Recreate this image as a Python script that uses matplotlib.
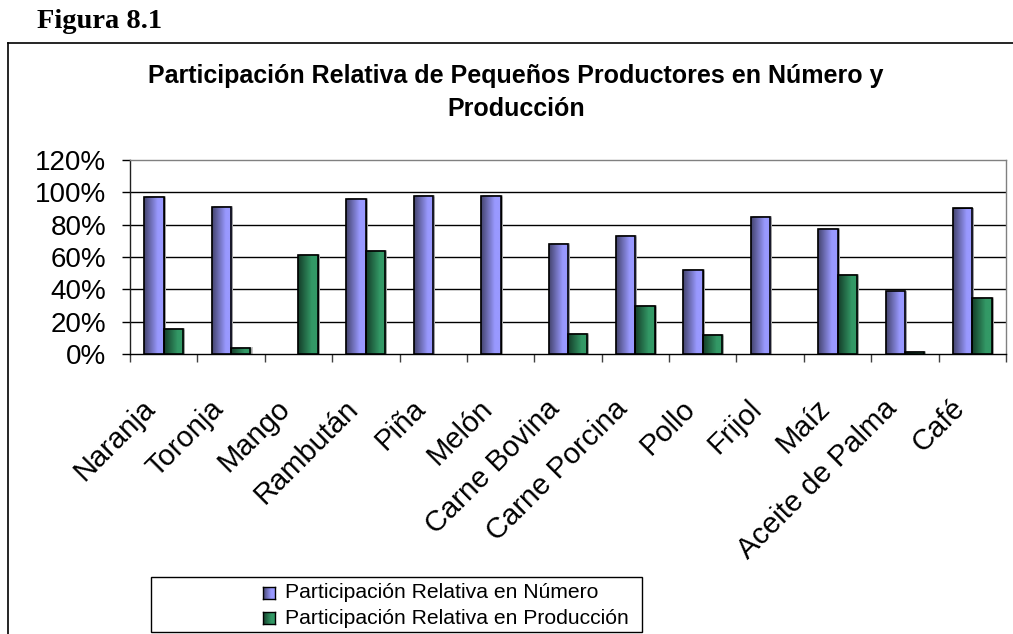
import matplotlib
matplotlib.use('Agg')
import matplotlib.pyplot as plt
import numpy as np
from matplotlib.colors import LinearSegmentedColormap
from matplotlib.patches import Rectangle
from matplotlib.lines import Line2D

plt.rcParams['font.family'] = ['Liberation Sans', 'DejaVu Sans']

categories = ['Naranja', 'Toronja', 'Mango', 'Rambután', 'Piña', 'Melón', 'Carne Bovina',
              'Carne Porcina', 'Pollo', 'Frijol', 'Maíz', 'Aceite de Palma', 'Café']
numero = [0.97, 0.91, 0.0, 0.96, 0.98, 0.98, 0.68, 0.73, 0.52, 0.85, 0.775, 0.39, 0.90]
produccion = [0.156, 0.04, 0.614, 0.635, 0.0, 0.0, 0.124, 0.30, 0.117, 0.0, 0.49, 0.015, 0.346]
series_names = ['Participación Relativa en Número', 'Participación Relativa en Producción']
yticks = [0.0, 0.2, 0.4, 0.6, 0.8, 1.0, 1.2]

BLUE_LIGHT = '#9999ff'
BLUE_DARK = '#44446e'
GREEN_LIGHT = '#339966'
GREEN_DARK = '#143d29'
BAR_W = 0.288
LABEL_SHIFT = 0.33  # rotated labels sit a little left of the category centre

W, H = 1013, 634
fig = plt.figure(figsize=(W / 100, H / 100), dpi=100)
ax = fig.add_axes([130 / W, 1 - 354 / H, (1006 - 130) / W, (354 - 160) / H])

gradient = np.clip(np.linspace(0, 1, 64) / 0.7, 0, 1).reshape(1, -1)


def shade_cmap(dark, light):
    return LinearSegmentedColormap.from_list('shade', [dark, light])


def shaded_bars(xs, values, dark, light):
    cmap = shade_cmap(dark, light)
    bars = ax.bar(xs, values, BAR_W, align='edge', facecolor=light,
                  edgecolor='black', linewidth=1.0, zorder=3)
    for bar in bars:
        h = bar.get_height()
        if h <= 0:
            bar.set_visible(False)
            continue
        x0 = bar.get_x()
        # soft drop shadow
        ax.add_patch(Rectangle((x0 + 0.03, 0), BAR_W, h + 0.006, facecolor='#c8c8c8',
                               edgecolor='none', zorder=2))
        img = ax.imshow(gradient, extent=[x0, x0 + BAR_W, 0, h], aspect='auto',
                        cmap=cmap, vmin=0, vmax=1, zorder=3.5, interpolation='bilinear')
        img.set_clip_path(bar)
        ax.add_patch(Rectangle((x0, 0), BAR_W, h, facecolor='none', edgecolor='black',
                               linewidth=1.2, zorder=4))


x = np.arange(len(categories))
shaded_bars(x - BAR_W, numero, BLUE_DARK, BLUE_LIGHT)
shaded_bars(x, produccion, GREEN_DARK, GREEN_LIGHT)

ax.set_xlim(-0.5, len(categories) - 0.5)
ax.set_ylim(0, 1.2)
ax.set_yticks(yticks)
ax.set_yticklabels([f'{int(round(v * 100))}%' for v in yticks], fontsize=20)
for v in yticks[1:-1]:
    ax.axhline(v, color='black', linewidth=1.0, zorder=1)

ax.set_xticks(x - LABEL_SHIFT)
ax.set_xticklabels(categories, fontsize=21, rotation=45, ha='right', va='top',
                   rotation_mode='anchor')
ax.set_xticks(np.arange(len(categories) + 1) - 0.5, minor=True)
ax.tick_params(axis='x', which='major', length=0, pad=29)
ax.tick_params(axis='x', which='minor', length=6, width=1.0, color='#404040')
ax.tick_params(axis='y', length=6, width=1.0, pad=11)

ax.spines['top'].set_color('#808080')
ax.spines['right'].set_color('#808080')
ax.spines['left'].set_color('#202020')
ax.spines['bottom'].set_color('black')
for s in ax.spines.values():
    s.set_linewidth(1.0)

# title
fig.text(516 / W, 1 - 76 / H, 'Participación Relativa de Pequeños Productores en Número y',
         ha='center', va='center', fontsize=18, fontweight='bold')
fig.text(516 / W, 1 - 109 / H, 'Producción', ha='center', va='center',
         fontsize=18, fontweight='bold')

# "Figura" heading and outer frame
fig.text(37 / W, 1 - 21 / H, 'Figura 8.1', ha='left', va='center', fontsize=20.5,
         fontweight='bold', family=['Liberation Serif'])
fig.add_artist(Line2D([8 / W, 1.0], [1 - 43 / H, 1 - 43 / H], color='black', linewidth=1.2))
fig.add_artist(Line2D([8 / W, 8 / W], [0, 1 - 43 / H], color='black', linewidth=1.2))

# legend box (kept below the little handle axes)
fig.add_artist(Rectangle((151 / W, 1 - 632 / H), (642 - 151) / W, (632 - 577) / H,
                         transform=fig.transFigure, facecolor='white', edgecolor='black',
                         linewidth=1.0, zorder=-1))
legend_rows = [593, 618]
legend_colors = [(BLUE_DARK, BLUE_LIGHT), (GREEN_DARK, GREEN_LIGHT)]
for name, yrow, (dark, light) in zip(series_names, legend_rows, legend_colors):
    hax = fig.add_axes([263 / W, 1 - (yrow + 6) / H, 12 / W, 12 / H], zorder=2)
    hax.imshow(gradient, aspect='auto', cmap=shade_cmap(dark, light), vmin=0, vmax=1,
               interpolation='bilinear')
    hax.set_xticks([])
    hax.set_yticks([])
    for s in hax.spines.values():
        s.set_color('black')
        s.set_linewidth(1.0)
    fig.text(285 / W, 1 - yrow / H, name, ha='left', va='center', fontsize=15.2)

fig.savefig('out.png', dpi=100)
